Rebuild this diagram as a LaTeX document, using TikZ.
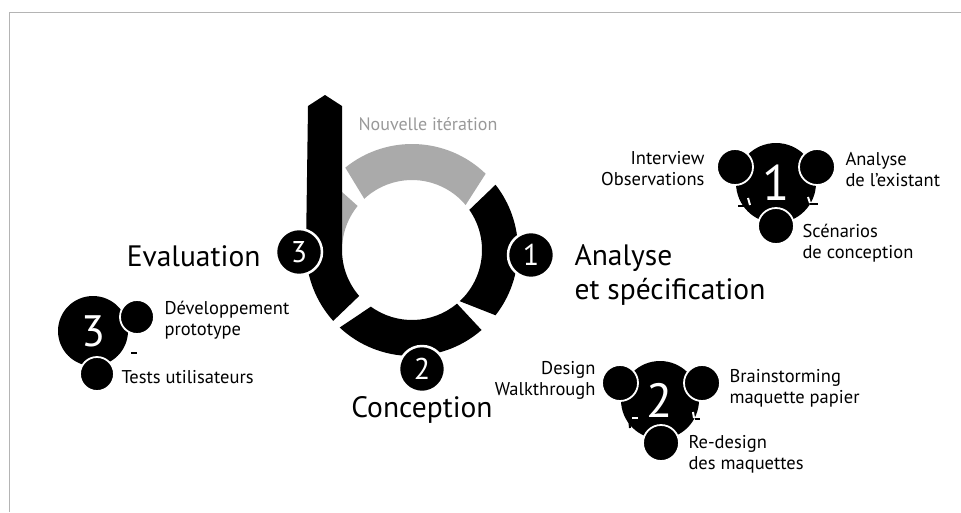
\documentclass[tikz,border=0pt]{standalone}
\usepackage{fontspec}
\setmainfont{PT Sans}
\definecolor{ringgray}{HTML}{AAAAAA}
\definecolor{textgray}{HTML}{999999}
\definecolor{framegray}{HTML}{B4B4B4}
\begin{document}
\begin{tikzpicture}[x=1pt,y=-1pt,
    num/.style={circle,fill=black,draw=white,line width=2.5pt,minimum size=46pt,inner sep=0pt,text=white,font=\fontsize{30}{30}\selectfont},
    big/.style={circle,fill=black,minimum size=#1,inner sep=0pt,text=white},
    sub/.style={circle,fill=black,draw=white,line width=1.8pt,minimum size=#1,inner sep=0pt},
    sub/.default=36pt,
    lbl/.style={font=\fontsize{29.5}{34}\selectfont,align=left},
    note/.style={font=\fontsize{18.5}{21}\selectfont},
    tick/.style={line width=2pt}]
  \useasboundingbox (0,0) rectangle (961,512);
  \draw[framegray] (9,512) -- (9,12) -- (961,12);
  \begin{scope}[shift={(412,250)}]
    \fill[ringgray] (-46:106) arc[start angle=-46,end angle=-129,radius=106] -- (-133:70) arc[start angle=-133,end angle=-40,radius=70] -- cycle;
    \fill[ringgray] (-140:106) arc[start angle=-140,end angle=-175,radius=106] -- (-175:70) arc[start angle=-175,end angle=-141,radius=70] -- cycle;
    \fill (-38:106) arc[start angle=-38,end angle=38,radius=106] -- (47:70) arc[start angle=47,end angle=-35,radius=70] -- cycle;
    \fill (49:106) arc[start angle=49,end angle=133,radius=106] -- (126:70) arc[start angle=126,end angle=50,radius=70] -- cycle;
  \end{scope}
  \fill (325,95) -- (342,106) -- (342,250) arc[start angle=180,end angle=139,radius=70]
    -- (333.2,320.9) arc[start angle=138,end angle=180,radius=106] -- (308,106) -- cycle;
  \node[num] (n1) at (531,255) {1};
  \node[num] (n2) at (422,369) {2};
  \node[num] (n3) at (299,252) {3};
  \node[font=\fontsize{18}{18}\selectfont,text=textgray] (iter) at (428,124) {Nouvelle itération};
  \node[lbl,anchor=west] (ana) at (571,275) {Analyse\\et spécification};
  \node[lbl] (conc) at (422,410) {Conception};
  \node[lbl,anchor=east] (eval) at (264,256) {Evaluation};

  \node[big=80pt,font=\fontsize{50}{50}\selectfont] (s1) at (776,183) {1};
  \node[sub] (s1a) at (735,167) {};
  \node[sub] (s1b) at (817,167) {};
  \node[sub] (s1c) at (776,226) {};
  \draw[tick,white] (748,198) -- (750,205);
  \draw[tick] (738,206) -- (747,206);
  \draw[tick,white] (808,197) -- (810,203);
  \draw[tick] (810,204) -- (818,204);
  \node[note,anchor=east,align=right] (t1a) at (708,169) {Interview\\Observations};
  \node[note,anchor=west,align=left] (t1b) at (842,170) {Analyse\\de l’existant};
  \node[note,anchor=west,align=left] (t1c) at (799,243) {Scénarios\\de conception};

  \node[big=78pt,font=\fontsize{48}{48}\selectfont] (s2) at (660,400) {2};
  \node[sub] (s2a) at (620,383) {};
  \node[sub] (s2b) at (702,383) {};
  \node[sub] (s2c) at (661,443) {};
  \draw[tick] (629,418) -- (630,428);
  \draw[tick,white] (632,418) -- (638,418);
  \draw[tick,white] (693,412) -- (694,418);
  \draw[tick] (695,419) -- (700,419);
  \node[note,anchor=east,align=right] (t2a) at (599,380) {Design\\Walkthrough};
  \node[note,anchor=west,align=left] (t2b) at (726,388) {Brainstorming\\maquette papier};
  \node[note,anchor=west,align=left] (t2c) at (685,454) {Re-design\\des maquettes};

  \node[big=70pt,font=\fontsize{44}{44}\selectfont] (s3) at (93,331) {3};
  \node[sub=34pt] (s3a) at (137,317) {};
  \node[sub=34pt] (s3b) at (97,374) {};
  \draw[tick,white] (127,345) -- (128,350);
  \draw[tick] (131,353) -- (137,353);
  \node[note,anchor=west,align=left] (t3a) at (161,320) {Développement\\prototype};
  \node[note,anchor=west] (t3b) at (118,377) {Tests utilisateurs};
\end{tikzpicture}
\end{document}
